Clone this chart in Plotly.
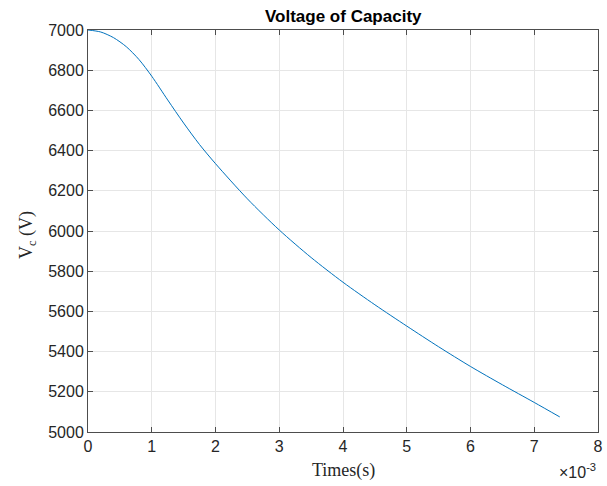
import plotly.graph_objects as go

# time in milliseconds (axis shows x10^-3 s)
t_ms = [0, 0.2, 0.4, 0.6, 0.8, 1.0, 1.25, 1.5, 1.75, 2.0, 2.5, 3.0, 3.5, 4.0, 4.5, 5.0, 5.5, 6.0, 6.5, 7.0, 7.4]
voltage = [7000, 6990, 6962, 6917, 6853, 6770, 6652, 6537, 6430, 6335, 6160, 6005, 5868, 5745, 5633, 5527, 5424, 5326, 5235, 5147, 5075]
x_ticks = [0, 1, 2, 3, 4, 5, 6, 7, 8]
y_ticks = [5000, 5200, 5400, 5600, 5800, 6000, 6200, 6400, 6600, 6800, 7000]

t_s = [v * 1e-3 for v in t_ms]

fig = go.Figure()
fig.add_trace(go.Scatter(x=t_s, y=voltage, mode="lines",
                         line=dict(color="#0072BD", width=1, shape="spline", smoothing=0.8),
                         showlegend=False))

axis_common = dict(showline=True, linecolor="#4d4d4d", linewidth=1, mirror="ticks",
                   ticks="inside", ticklen=5, tickcolor="#4d4d4d", automargin=False,
                   showgrid=True, gridcolor="#e6e6e6", gridwidth=1, zeroline=False,
                   tickfont=dict(family="Liberation Sans, Arial", size=16, color="#262626"))

fig.update_xaxes(range=[0, 0.008], tickvals=[v * 1e-3 for v in x_ticks],
                 ticktext=[str(v) for v in x_ticks], **axis_common)
fig.update_yaxes(range=[5000, 7000], tickvals=y_ticks,
                 ticktext=[str(v) for v in y_ticks], **axis_common)

fig.update_layout(
    width=607, height=486,
    margin=dict(l=88, r=9, t=30, b=54),
    paper_bgcolor="white", plot_bgcolor="white",
    annotations=[
        dict(text="<b>Voltage of Capacity</b>", xref="paper", yref="paper",
             x=0.5, y=1.0, yshift=2, xanchor="center", yanchor="bottom", showarrow=False,
             font=dict(family="Liberation Sans, Arial", size=17, color="black")),
        dict(text="Times(s)", xref="paper", yref="paper",
             x=0.5, y=0, yshift=-26, xanchor="center", yanchor="top", showarrow=False,
             font=dict(family="Liberation Serif, Times New Roman", size=18, color="#262626")),
        dict(text="V<sub>c</sub> (V)", xref="paper", yref="paper",
             x=(27 - 88) / 510, y=0.49, xanchor="center", yanchor="middle", showarrow=False,
             textangle=-90,
             font=dict(family="Liberation Serif, Times New Roman", size=18, color="#262626")),
        dict(text="×10<sup>-3</sup>", xref="paper", yref="paper",
             x=1.0, y=0, yshift=-27, xanchor="right", yanchor="top", showarrow=False,
             font=dict(family="Liberation Sans, Arial", size=16, color="#262626")),
    ],
)

fig.write_html("out.html", config={"displayModeBar": False})

# remove the default page margin so the figure sits at the window's top-left corner
with open("out.html", "r", encoding="utf-8") as f:
    html = f.read()
html = html.replace("<head>", "<head><style>html,body{margin:0;padding:0;overflow:hidden;}</style>", 1)
with open("out.html", "w", encoding="utf-8") as f:
    f.write(html)
